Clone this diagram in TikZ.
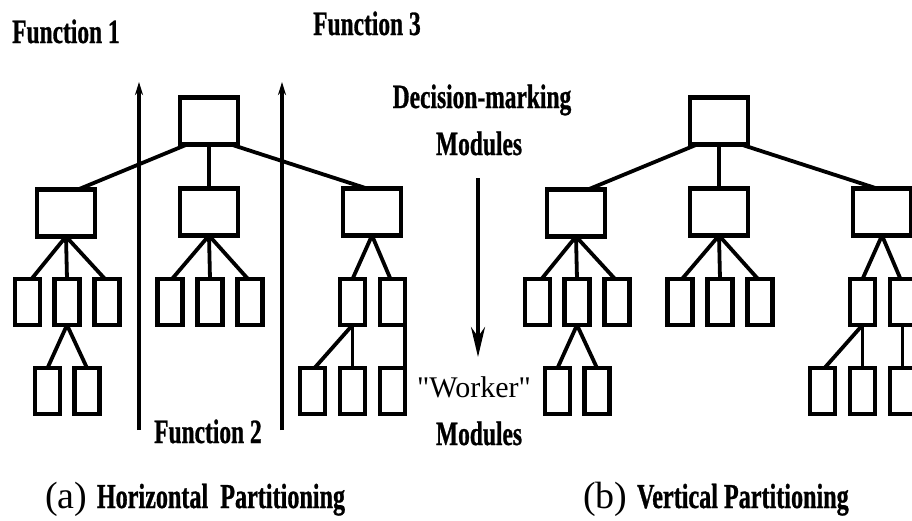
\documentclass[tikz,border=0pt]{standalone}
\usepackage{fontspec}
\setmainfont{Liberation Serif}
\newfontfamily\headfont[FakeStretch=0.69,FakeBold=0.8]{Liberation Serif}
\newfontfamily\quotefont[Ligatures=TeXOff]{Liberation Serif}
\usetikzlibrary{arrows.meta}

\tikzset{
  bigbox/.style={draw, line width=4.6pt, minimum width=58pt, minimum height=47pt,
    inner sep=0pt, outer sep=0pt},
  leafbox/.style={draw, line width=4.4pt, minimum width=25pt, minimum height=46pt,
    inner sep=0pt, outer sep=0pt},
  link/.style={line width=3.8pt},
  divider/.style={line width=3.4pt, -{Stealth[length=13pt,width=8pt]}},
  flow/.style={line width=3.6pt, -{Stealth[length=30pt,width=14pt]}},
  heading/.style={font=\headfont\bfseries\fontsize{34}{36}\selectfont,
    inner sep=0pt, anchor=base west},
  plainlabel/.style={font=\quotefont\fontsize{30}{32}\selectfont, inner sep=0pt},
  caption/.style={font=\fontsize{38}{40}\selectfont, inner sep=0pt, anchor=base west}
}

\begin{document}
\begin{tikzpicture}[x=1pt, y=-1pt]
  \useasboundingbox (0,0) rectangle (912,520);
  \clip (0,0) rectangle (912,520);
  \fill[white] (0,0) rectangle (912,520);

  % two copies of the module hierarchy
  \foreach \p/\dx/\sa/\na in {a/0/south east/north east, b/510/south/north} {
    \begin{scope}[xshift=\dx pt]
      % decision-making levels
      \node[bigbox] (\p-root) at (209,121) {};
      \node[bigbox] (\p-l) at (66,213) {};
      \node[bigbox] (\p-m) at (209,212) {};
      \node[bigbox] (\p-r) at (372,212) {};
      % worker modules
      \node[leafbox] (\p-l1) at (27.5,302) {};
      \node[leafbox] (\p-l2) at (67,302) {};
      \node[leafbox] (\p-l3) at (107,302) {};
      \node[leafbox] (\p-m1) at (170,302) {};
      \node[leafbox] (\p-m2) at (210,302) {};
      \node[leafbox] (\p-m3) at (250,302) {};
      \node[leafbox] (\p-r1) at (352.5,302) {};
      \node[leafbox] (\p-r2) at (392.5,302) {};
      \node[leafbox] (\p-a1) at (47.5,391) {};
      \node[leafbox] (\p-a2) at (87,391) {};
      \node[leafbox] (\p-b1) at (312.5,391) {};
      \node[leafbox] (\p-b2) at (352.5,391) {};
      \node[leafbox] (\p-b3) at (392.5,391) {};

      \draw[link] ([xshift=-22pt]\p-root.south) -- ([xshift=12pt]\p-l.north);
      \draw[link] (\p-root.south) -- (\p-m.north);
      \draw[link] ([xshift=22pt]\p-root.south) -- ([xshift=-5pt]\p-r.north);

      \draw[link] (\p-l.south) -- ([xshift=4pt]\p-l1.north);
      \draw[link] (\p-l.south) -- (\p-l2.north);
      \draw[link] (\p-l.south) -- ([xshift=-2pt]\p-l3.north);
      \draw[link] (\p-m.south) -- ([xshift=2pt]\p-m1.north);
      \draw[link] (\p-m.south) -- (\p-m2.north);
      \draw[link] (\p-m.south) -- ([xshift=-2pt]\p-m3.north);
      \draw[link] (\p-r.south) -- (\p-r1.north);
      \draw[link] (\p-r.south) -- ([xshift=-2pt]\p-r2.north);

      \draw[link] (\p-l2.south) -- (\p-a1.north);
      \draw[link] (\p-l2.south) -- (\p-a2.north);
      \draw[link] (\p-r1.south) -- ([xshift=2pt]\p-b1.north);
      \draw[link] (\p-r1.south) -- (\p-b2.north);
      \draw[link] (\p-r2.\sa) -- (\p-b3.\na);
    \end{scope}
  }

  % function boundaries
  \coordinate (s1bot) at (139,430);
  \coordinate (s1top) at (139,82);
  \coordinate (s2bot) at (282,430);
  \coordinate (s2top) at (282,82);
  \draw[divider] (s1bot) -- (s1top);
  \draw[divider] (s2bot) -- (s2top);

  % labels
  \node[heading] (f1) at (12,43) {Function 1};
  \node[heading] (f3) at (313,35) {Function 3};
  \node[heading] (f2) at (154,443) {Function 2};
  \node[heading, anchor=base] (dm) at (482,108) {Decision-marking};
  \node[heading, anchor=base] (dmod) at (479,155) {Modules};
  \node[plainlabel, anchor=base] (wk) at (474,397) {"Worker"};
  \node[heading, anchor=base] (wmod) at (479,445) {Modules};

  % control flow from deciders down to workers
  \coordinate (dtop) at (478,178);
  \coordinate (dbot) at (478,357);
  \draw[flow] (dtop) -- (dbot);

  % captions
  \node[caption] (capa) at (45,508)
    {(a) {\headfont\bfseries\fontsize{35}{36}\selectfont Horizontal\ \ Partitioning}};
  \node[caption] (capb) at (583,508)
    {(b) {\headfont\bfseries\fontsize{35}{36}\selectfont Vertical Partitioning}};
\end{tikzpicture}
\end{document}
